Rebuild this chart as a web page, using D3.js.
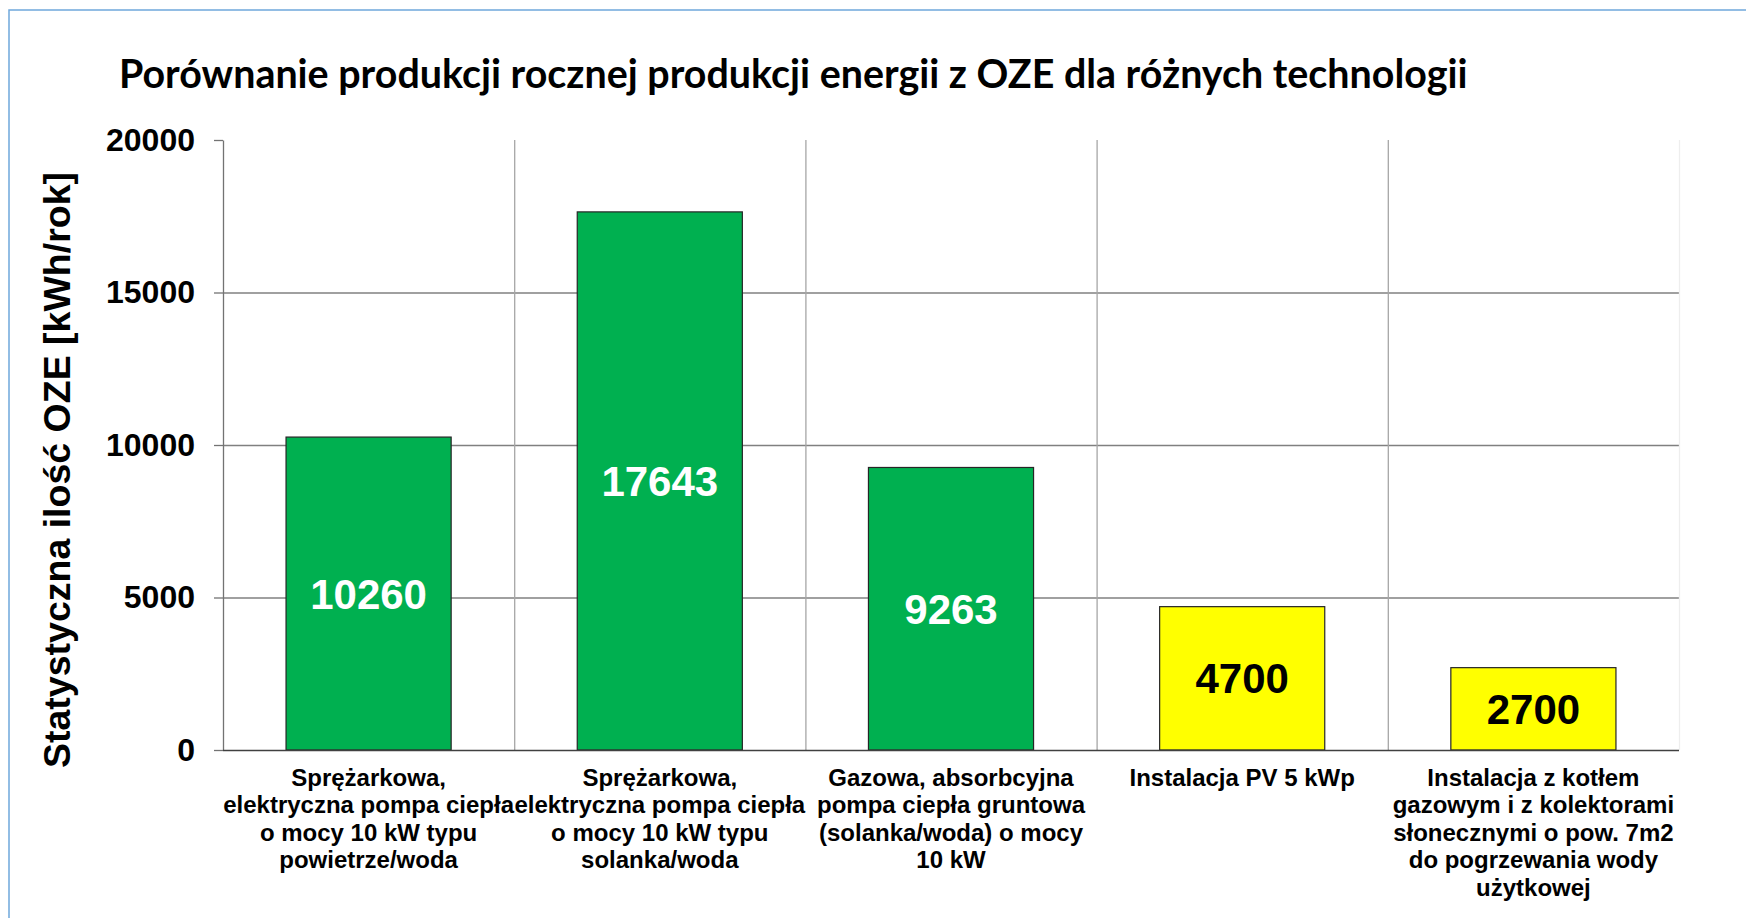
<!DOCTYPE html>
<html lang="pl">
<head>
<meta charset="utf-8">
<title>Porównanie produkcji rocznej produkcji energii z OZE</title>
<script src="https://d3js.org/d3.v7.min.js"></script>
<style>
  body { margin: 0; background: #fff; }
  svg text { font-family: "Liberation Sans", Arial, sans-serif; font-weight: bold; }
</style>
</head>
<body>
<script>

// data
var categories = [
  ["Sprężarkowa,", "elektryczna pompa ciepła", "o mocy 10 kW typu", "powietrze/woda"],
  ["Sprężarkowa,", "elektryczna pompa ciepła", "o mocy 10 kW typu", "solanka/woda"],
  ["Gazowa, absorbcyjna", "pompa ciepła gruntowa", "(solanka/woda) o mocy", "10 kW"],
  ["Instalacja PV 5 kWp"],
  ["Instalacja z kotłem", "gazowym i z kolektorami", "słonecznymi o pow. 7m2", "do pogrzewania wody", "użytkowej"]
];
var values = [10260, 17643, 9263, 4700, 2700];
var yTicks = [0, 5000, 10000, 15000, 20000];
var title = "Porównanie produkcji rocznej produkcji energii z OZE dla różnych technologii";
var yTitle = "Statystyczna ilość OZE [kWh/rok]";

var w = 1746;
var h = 918;
var plot = {left: 223, right: 1679, top: 140, bottom: 750};

var keys = categories.map((c, i) => "c" + i);
var rows = keys.map((k, i) => ({key: k, lines: categories[i], value: values[i]}));

var xScale = d3.scaleBand()
    .domain(keys)
    .range([plot.left, plot.right])
    .paddingInner(0.433)
    .paddingOuter(0.2165);

var yScale = d3.scaleLinear()
    .domain([0, 20000])
    .range([plot.bottom, plot.top]);

var fill = d3.scaleOrdinal()
    .domain(keys)
    .range(["#00b050", "#00b050", "#00b050", "#ffff00", "#ffff00"]);
var labelColor = d3.scaleOrdinal()
    .domain(keys)
    .range(["#ffffff", "#ffffff", "#ffffff", "#000000", "#000000"]);

var svg = d3.select("body")
  .append("svg")
    .attr("width", w)
    .attr("height", h);

svg.append("rect")
    .attr("width", w)
    .attr("height", h)
    .attr("fill", "white");

// outer frame of the chart object (right and bottom run off the picture)
svg.append("rect")
    .attr("x", 9)
    .attr("y", 10)
    .attr("width", w + 20)
    .attr("height", h + 20)
    .attr("fill", "none")
    .attr("stroke", "#6fa8dc")
    .attr("stroke-width", 1.5);

// title
var titleText = svg.append("text")
    .attr("x", 119)
    .attr("y", 88)
    .style("font-family", "Lato, 'Open Sans', sans-serif")
    .style("font-size", "36px")
    .attr("fill", "#000")
    .text(title);
var tw = titleText.node().getComputedTextLength();
titleText.style("font-size", (36 * 1349 / tw) + "px");

// horizontal gridlines
svg.append("g")
  .selectAll("line")
  .data(yTicks.filter(t => t > 0 && t < 20000))
  .enter().append("line")
    .attr("x1", plot.left)
    .attr("x2", plot.right)
    .attr("y1", d => yScale(d) + 0.5)
    .attr("y2", d => yScale(d) + 0.5)
    .attr("stroke", "#808080")
    .attr("stroke-width", 1.3);

// vertical gridlines between categories
svg.append("g")
  .selectAll("line")
  .data(keys)
  .enter().append("line")
    .attr("x1", d => xScale(d) - xScale.step() * xScale.paddingOuter() + xScale.step() + 0.5)
    .attr("x2", d => xScale(d) - xScale.step() * xScale.paddingOuter() + xScale.step() + 0.5)
    .attr("y1", plot.top)
    .attr("y2", plot.bottom)
    .attr("stroke", (d, i) => i == keys.length - 1 ? "#eeeeee" : "#a6a6a6")
    .attr("stroke-width", 1.3);

// bars
svg.append("g")
  .selectAll("rect")
  .data(rows)
  .enter().append("rect")
    .attr("x", d => xScale(d.key))
    .attr("y", d => yScale(d.value))
    .attr("width", xScale.bandwidth())
    .attr("height", d => plot.bottom - yScale(d.value))
    .attr("fill", d => fill(d.key))
    .attr("stroke", "#262626")
    .attr("stroke-width", 1.2);

// value labels
svg.append("g")
  .selectAll("text")
  .data(rows)
  .enter().append("text")
    .attr("x", d => xScale(d.key) + xScale.bandwidth() / 2)
    .attr("y", d => (yScale(d.value) + plot.bottom) / 2)
    .attr("dy", "0.36em")
    .attr("text-anchor", "middle")
    .style("font-size", "42px")
    .attr("fill", d => labelColor(d.key))
    .text(d => d.value);

// y axis
var yAxis = d3.axisLeft(yScale)
    .tickValues(yTicks)
    .tickFormat(d3.format("d"))
    .tickSize(9)
    .tickSizeOuter(0)
    .tickPadding(19);

var yg = svg.append("g")
    .attr("transform", `translate(${plot.left},0)`)
    .call(yAxis);
yg.select(".domain").attr("stroke", "#737373").attr("stroke-width", 1.3);
yg.selectAll(".tick line").attr("stroke", "#737373").attr("stroke-width", 1.3);
yg.selectAll(".tick text")
    .style("font-size", "32px")
    .style("font-family", "'Liberation Sans', Arial, sans-serif")
    .style("font-weight", "bold")
    .attr("fill", "#000");

// x axis line
svg.append("line")
    .attr("x1", plot.left)
    .attr("x2", plot.right)
    .attr("y1", yScale(0) + 0.5)
    .attr("y2", yScale(0) + 0.5)
    .attr("stroke", "#404040")
    .attr("stroke-width", 1.5);

// category labels
var cat = svg.append("g")
  .selectAll("text")
  .data(rows)
  .enter().append("text")
    .attr("text-anchor", "middle")
    .style("font-size", "24px")
    .attr("fill", "#000");

cat.selectAll("tspan")
  .data(d => d.lines.map(l => ({key: d.key, line: l})))
  .enter().append("tspan")
    .attr("x", d => xScale(d.key) + xScale.bandwidth() / 2)
    .attr("y", (d, i) => 786 + i * 27.4)
    .text(d => d.line);

// y axis title
svg.append("text")
    .attr("transform", `translate(70,${(plot.top + plot.bottom) / 2 + 25}) rotate(-90)`)
    .attr("text-anchor", "middle")
    .style("font-size", "37.5px")
    .attr("fill", "#000")
    .text(yTitle);

</script>
</body>
</html>
